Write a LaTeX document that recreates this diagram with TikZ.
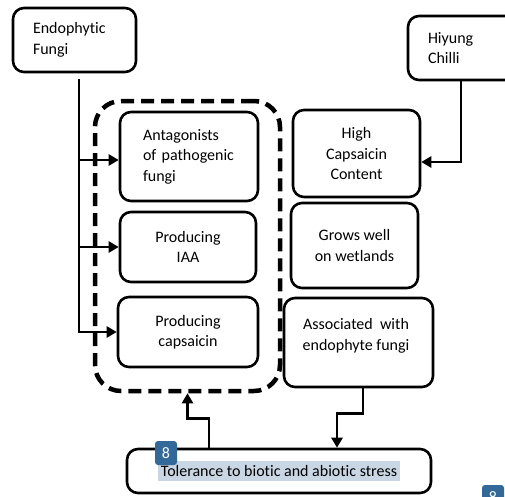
\documentclass[tikz,border=0pt]{standalone}
\usepackage{fontspec}
\setmainfont{Carlito}[Ligatures=NoCommon]
\usetikzlibrary{arrows.meta,calc}
\definecolor{badgeblue}{HTML}{33689A}
\definecolor{hlblue}{HTML}{C9D7E5}
\begin{document}
\begin{tikzpicture}[x=1pt,y=-1pt,
  box/.style={draw, line width=2.6pt, rounded corners=11pt, fill=white, inner sep=0pt,
    font=\fontsize{16}{20.5}\selectfont},
  lbox/.style={box, align=left},
  cbox/.style={box, align=center},
  grpbox/.style={draw, line width=4.5pt, dash pattern=on 13pt off 7pt, rounded corners=26pt, inner sep=0pt},
  conn/.style={line width=2.6pt},
  arr/.style={conn, -{Triangle[length=10pt,width=11pt]}},
  badge/.style={fill=badgeblue, rounded corners=3pt, minimum width=22pt, minimum height=24pt, inner sep=0pt,
    text=white, font=\fontsize{16}{16}\selectfont},
  txt/.style={inner sep=0pt, font=\fontsize{16}{20.5}\selectfont, align=center}
]
\clip (0,0) rectangle (505,496);
\fill[white] (0,0) rectangle (505,496);

% dashed group
\node[grpbox, minimum width=185pt, minimum height=290pt] (grp) at (187.5,246) {};

% boxes
\node[lbox, minimum width=123pt, minimum height=64pt, text width=83pt] (endo) at (74.5,40) {Endophytic\\Fungi};
\node[lbox, minimum width=112pt, minimum height=64pt, text width=72pt] (hiyung) at (464,48) {Hiyung\\Chilli};
\node[lbox, minimum width=138pt, minimum height=89pt, text width=92pt] (antag) at (189,156.5) {Antagonists\\of pathogenic\\fungi};
\node[cbox, minimum width=136pt, minimum height=70pt] (iaa) at (188,247) {Producing\\IAA};
\node[cbox, minimum width=140pt, minimum height=70pt] (caps) at (188,332) {Producing\\capsaicin};
\node[cbox, minimum width=127pt, minimum height=87pt] (high) at (356.5,153.5) {High\\Capsaicin\\Content};
\node[cbox, minimum width=127pt, minimum height=85pt] (grows) at (354.5,245.5) {Grows well\\on wetlands};
\node[box, minimum width=149pt, minimum height=89pt] (assoc) at (358.5,342.5) {};
\node[txt] (assoctext) at (356,336) {Associated~~with\\endophyte fungi};
\node[box, minimum width=304pt, minimum height=44pt] (tol) at (279,471) {};
\node[txt, fill=hlblue, inner xsep=3pt, minimum height=20pt] (toltext) at (279,471) {Tolerance to biotic and abiotic stress};

% connectors
\coordinate (trunk) at (79,79);
\draw[arr] (trunk) |- (caps.west);
\draw[arr] (trunk |- antag.west) ++(0,3.5) -- ([yshift=-3.5pt]antag.west);
\draw[arr] (trunk |- iaa.west) -- (iaa.west);
\draw[arr] ([xshift=-3pt]hiyung.south) |- ([yshift=-8.5pt]high.east);
\draw[arr] ([xshift=4.5pt]assoc.south) -- ++(0,25) -| ([xshift=58pt]tol.north);
\draw[arr] ([xshift=-70pt]tol.north) -- ++(0,-29) -| (grp.south);

% badges
\node[badge] (b1) at (166,453) {8};
\node[badge] (b2) at (493,497) {8};
\end{tikzpicture}
\end{document}
